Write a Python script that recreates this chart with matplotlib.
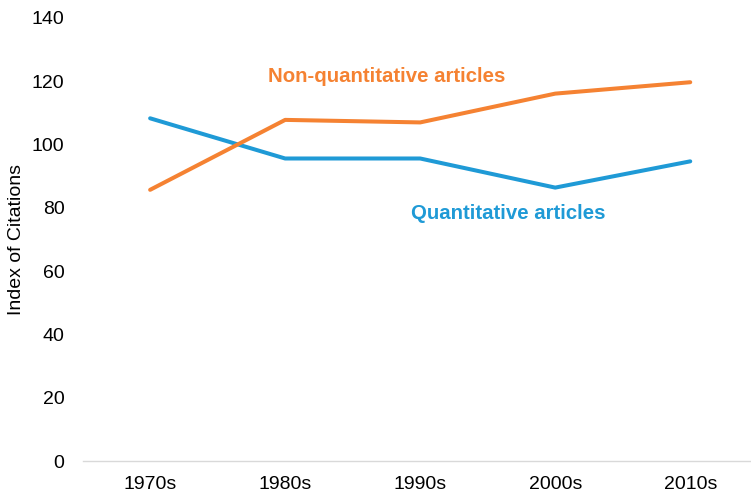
import matplotlib.pyplot as plt

plt.rcParams['font.family'] = ['Liberation Sans', 'DejaVu Sans']

# ----------------------------
# Data
# ----------------------------
decades = ["1970s", "1980s", "1990s", "2000s", "2010s"]
non_quant = [85.7, 107.8, 107.0, 116.1, 119.7]
quant = [108.3, 95.6, 95.6, 86.4, 94.7]
y_ticks = [0, 20, 40, 60, 80, 100, 120, 140]

orange = "#F58232"
blue = "#1F9AD6"

fig = plt.figure(figsize=(7.51, 4.97), dpi=100)
ax = fig.add_axes([0.110, 0.0724, 0.899, 0.8914])

x = range(len(decades))
ax.plot(x, quant, color=blue, lw=2.9, solid_capstyle="round", zorder=3)
ax.plot(x, non_quant, color=orange, lw=2.9, solid_capstyle="round", zorder=3)

ax.text(1.75, 121.4, "Non-quantitative articles", color=orange, fontsize=14.7,
        fontweight="bold", ha="center", va="center")
ax.text(2.65, 78.1, "Quantitative articles", color=blue, fontsize=14.7,
        fontweight="bold", ha="center", va="center")

ax.set_xlim(-0.5, len(decades) - 0.5)
ax.set_ylim(0, 140)
ax.set_xticks(list(x))
ax.set_xticklabels(decades)
ax.set_yticks(y_ticks)
ax.tick_params(length=0, labelsize=14, colors="black")
ax.tick_params(axis="y", pad=13)
ax.tick_params(axis="x", pad=11)

# y label placed in figure coords so it stays inside the canvas
fig.text(17 / 751, 0.519, "Index of Citations", rotation=90, fontsize=14,
         ha="center", va="center")

for s in ["top", "right", "left"]:
    ax.spines[s].set_visible(False)
ax.spines["bottom"].set_color("#D9D9D9")
ax.spines["bottom"].set_linewidth(1)

plt.savefig("out.png", dpi=100)
